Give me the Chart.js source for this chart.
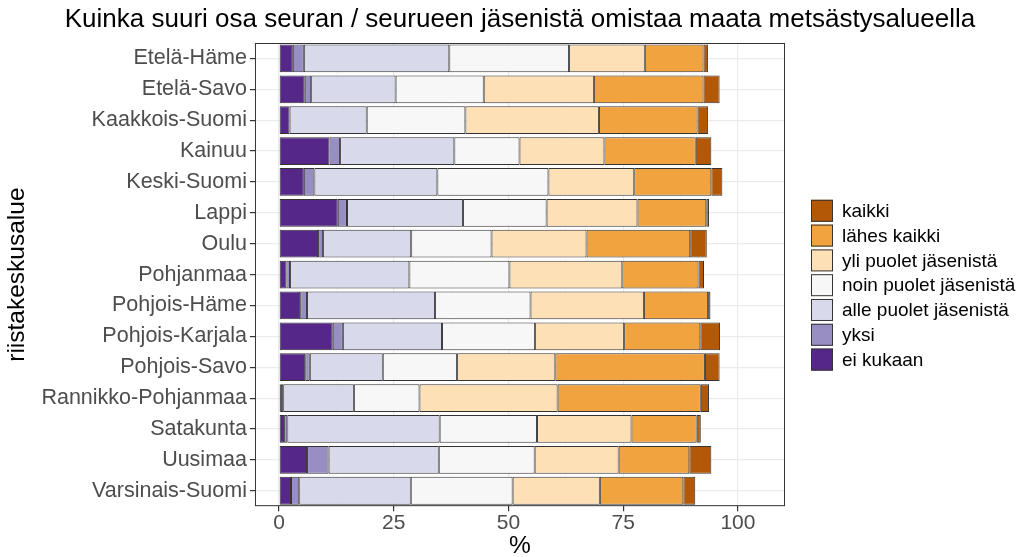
<!DOCTYPE html>
<html>
<head>
<meta charset="utf-8">
<script src="https://cdn.jsdelivr.net/npm/chart.js@4/dist/chart.umd.min.js"></script>
<style>
  html, body { margin: 0; padding: 0; background: #fff; }
  #wrap { width: 1030px; height: 557px; }
</style>
</head>
<body>
<div id="wrap"><canvas id="chart" width="1030" height="557"></canvas></div>
<script>
// alueet ylhäältä alas
const regions = ['Etelä-Häme', 'Etelä-Savo', 'Kaakkois-Suomi', 'Kainuu', 'Keski-Suomi', 'Lappi', 'Oulu',
    'Pohjanmaa', 'Pohjois-Häme', 'Pohjois-Karjala', 'Pohjois-Savo', 'Rannikko-Pohjanmaa', 'Satakunta',
    'Uusimaa', 'Varsinais-Suomi'];

// osuudet (%) luettu kuvasta
const eiKukaan    = [3.0, 5.6, 2.3, 11.0, 5.4, 12.8, 8.5, 1.6, 4.6, 11.7, 5.7, 0.4, 1.1, 6.1, 2.6];
const yksi        = [2.4, 1.4, 0.0, 2.3, 2.3, 2.0, 1.1, 0.8, 1.5, 2.2, 1.0, 0.5, 0.7, 4.7, 1.8];
const allePuolet  = [31.7, 18.4, 16.8, 24.9, 26.8, 25.3, 19.2, 26.0, 27.9, 21.6, 15.9, 15.4, 33.2, 24.0, 24.3];
const noinPuolet  = [26.1, 19.2, 21.5, 14.2, 24.2, 18.2, 17.5, 21.8, 20.8, 20.3, 16.2, 14.3, 21.2, 20.9, 22.2];
const yliPuolet   = [16.5, 24.0, 29.1, 18.5, 18.7, 19.8, 20.7, 24.6, 24.7, 19.4, 21.4, 30.1, 20.6, 18.3, 19.0];
const lahesKaikki = [12.8, 23.9, 21.5, 19.9, 16.8, 15.0, 22.6, 16.6, 14.0, 16.6, 32.6, 31.2, 14.2, 15.4, 18.2];
const kaikki      = [1.0, 3.5, 2.3, 3.4, 2.4, 0.6, 3.6, 1.2, 0.5, 4.3, 3.2, 1.8, 0.9, 4.8, 2.6];

const seriesNames = ['ei kukaan', 'yksi', 'alle puolet jäsenistä', 'noin puolet jäsenistä',
    'yli puolet jäsenistä', 'lähes kaikki', 'kaikki'];
const seriesData = [eiKukaan, yksi, allePuolet, noinPuolet, yliPuolet, lahesKaikki, kaikki];
const colors = ['#542788', '#998ec3', '#d8daeb', '#f7f7f7', '#fee0b6', '#f1a340', '#b35806'];

const xTicks = [0, 25, 50, 75, 100];
const titleText = 'Kuinka suuri osa seuran / seurueen jäsenistä omistaa maata metsästysalueella';

const datasets = [];
for (let i = 0; i < seriesNames.length; i++) {
    datasets.push({
        label: seriesNames[i],
        data: seriesData[i],
        backgroundColor: colors[i],
        borderColor: '#333333',
        borderWidth: 1,
        borderSkipped: false,
        barPercentage: 0.9,
        categoryPercentage: 1.0
    });
}

const font = "'Liberation Sans', Arial, sans-serif";

// paneelin reunat, otsikko paneelin keskelle ja selite oikealle (kaikki ylimpänä)
const panelAndLegend = {
    id: 'panelAndLegend',
    afterDraw(chart) {
        const a = chart.chartArea;
        const c = chart.ctx;
        c.save();
        c.strokeStyle = '#333333';
        c.lineWidth = 1;
        c.strokeRect(a.left + 0.5, a.top + 0.5, a.right - a.left - 1, a.bottom - a.top - 1);

        c.fillStyle = '#000';
        c.font = '26px ' + font;
        c.textAlign = 'center';
        c.textBaseline = 'middle';
        c.fillText(titleText, (a.left + a.right) / 2, 20);

        const ds = chart.data.datasets;
        const step = 24.8;
        const box = 22;
        const x0 = a.right + 26;
        let y = (a.top + a.bottom) / 2 - ds.length * step / 2 + 12;
        c.font = '19px ' + font;
        c.textAlign = 'left';
        for (let i = ds.length - 1; i >= 0; i--) {
            c.fillStyle = ds[i].backgroundColor;
            c.fillRect(x0, y, box, box);
            c.strokeStyle = '#333333';
            c.strokeRect(x0 + 0.5, y + 0.5, box - 1, box - 1);
            c.fillStyle = '#000';
            c.fillText(ds[i].label, x0 + box + 9, y + box / 2 + 1);
            y += step;
        }
        c.restore();
    }
};

new Chart(document.getElementById('chart'), {
    type: 'bar',
    data: { labels: regions, datasets: datasets },
    plugins: [panelAndLegend],
    options: {
        indexAxis: 'y',
        responsive: false,
        animation: false,
        layout: { padding: { left: 3, right: 245, top: 43, bottom: 0 } },
        plugins: {
            tooltip: { enabled: false },
            legend: { display: false },
            title: { display: false }
        },
        scales: {
            x: {
                stacked: true,
                min: -5.25,
                max: 110.25,
                ticks: {
                    stepSize: 12.5,
                    includeBounds: false,
                    color: '#4d4d4d',
                    font: { family: font, size: 21, lineHeight: 1 },
                    padding: 2,
                    maxRotation: 0,
                    autoSkip: false,
                    callback: (v) => xTicks.includes(v) ? String(v) : ''
                },
                grid: {
                    color: (ctx) => xTicks.includes(ctx.tick && ctx.tick.value) ? '#ebebeb' : '#f5f5f5',
                    lineWidth: (ctx) => xTicks.includes(ctx.tick && ctx.tick.value) ? 1.2 : 0.6,
                    tickColor: (ctx) => xTicks.includes(ctx.tick && ctx.tick.value) ? '#333333' : 'rgba(0,0,0,0)',
                    tickLength: 5
                },
                border: { display: false },
                title: {
                    display: true,
                    text: '%',
                    color: '#000',
                    font: { family: font, size: 24.5, lineHeight: 0.85 },
                    padding: { top: 0, bottom: 0 }
                }
            },
            y: {
                stacked: true,
                ticks: {
                    color: '#4d4d4d',
                    font: { family: font, size: 21.5 },
                    autoSkip: false
                },
                grid: {
                    offset: false,
                    color: '#ebebeb',
                    lineWidth: 1.2,
                    tickColor: '#333333',
                    tickLength: 5
                },
                border: { display: false },
                title: {
                    display: true,
                    text: 'riistakeskusalue',
                    color: '#000',
                    font: { family: font, size: 24.5 },
                    padding: { top: 0, bottom: 6 }
                }
            }
        }
    }
});
</script>
</body>
</html>
